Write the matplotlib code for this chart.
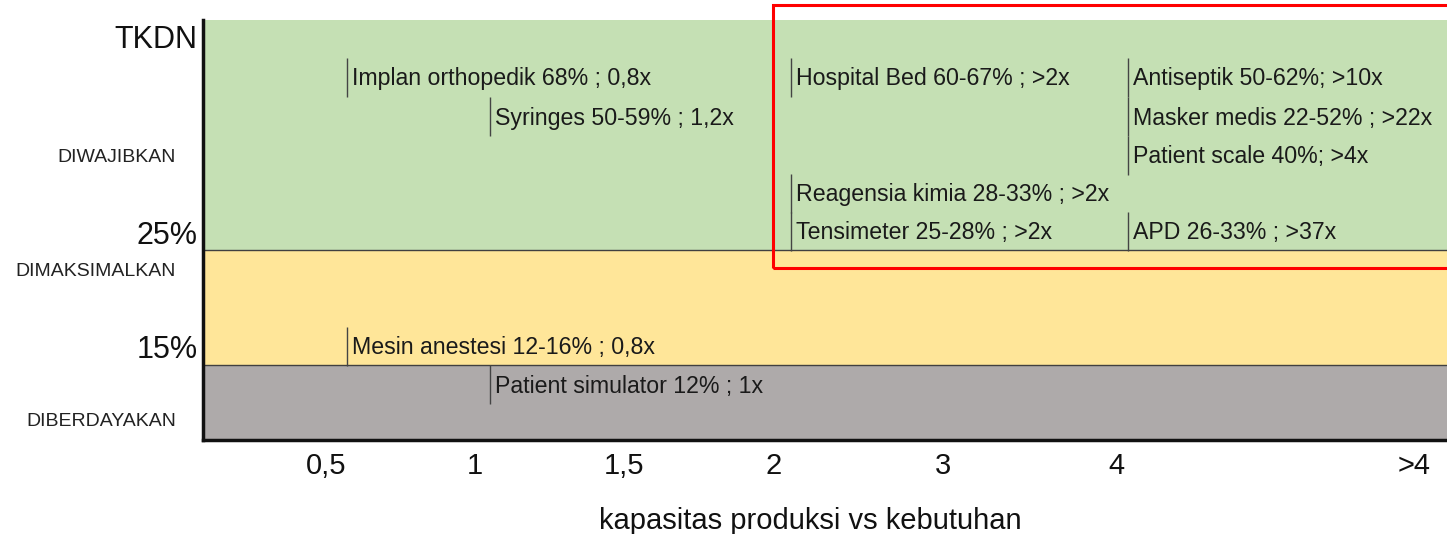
import matplotlib.pyplot as plt
from matplotlib.patches import Rectangle

plt.rcParams['font.family'] = ['Liberation Sans', 'DejaVu Sans']

# bands (y in layout units, 0 = bottom of plot, 420 = top)
band_names = ['DIBERDAYAKAN', 'DIMAKSIMALKAN', 'DIWAJIBKAN']
band_low = [0, 75, 190]
band_high = [75, 190, 420]
band_colors = ['#aeaaaa', '#ffe699', '#c5e0b4']
band_label_y = [18, 168, 282]

# y tick labels
ytick_labels = ['15%', '25%', 'TKDN']
ytick_y = [93, 208, 403]

# x axis ticks (capacity positions)
xtick_labels = ['0,5', '1', '1,5', '2', '3', '4', '>4']
xtick_pos = [0.5, 1.0, 1.5, 2.0, 2.57, 3.15, 4.15]

# products: label, capacity position, row centre
item_labels = ['Implan orthopedik 68% ; 0,8x', 'Syringes 50-59% ; 1,2x',
               'Hospital Bed 60-67% ; >2x', 'Antiseptik 50-62%; >10x',
               'Masker medis 22-52% ; >22x', 'Patient scale 40%; >4x',
               'Reagensia kimia 28-33% ; >2x', 'Tensimeter 25-28% ; >2x',
               'APD 26-33% ; >37x', 'Mesin anestesi 12-16% ; 0,8x',
               'Patient simulator 12% ; 1x']
item_x = [0.57, 1.05, 2.06, 3.19, 3.19, 3.19, 2.06, 2.06, 3.19, 0.57, 1.05]
item_y = [362.5, 323.5, 362.5, 362.5, 323.5, 284.5, 246.5, 209, 209, 94, 55.5]
row_h = 39

fig = plt.figure(figsize=(14.47, 5.34), dpi=100)
ax = fig.add_axes([203/1447, 94/534, 1244/1447, 420/534])
xmin, xmax = 0.087, 4.26
ax.set_xlim(xmin, xmax)
ax.set_ylim(0, 420)

for lo, hi, c in zip(band_low, band_high, band_colors):
    ax.axhspan(lo, hi, color=c, lw=0, zorder=0)
for b in band_low[1:]:
    ax.axhline(b, color='#404040', lw=1, zorder=1)

for lab, x, y in zip(item_labels, item_x, item_y):
    ax.vlines(x, y - row_h/2, y + row_h/2, color='#444444', lw=1, zorder=2)
    ax.text(x + 0.017, y - 1.5, lab, fontsize=16.7, va='center', ha='left', color='#1a1a1a', zorder=3)

for lab, y in zip(band_names, band_label_y):
    ax.text(-0.0217, y, lab, fontsize=14, va='center', ha='right', color='#222222',
            transform=ax.get_yaxis_transform())

ax.set_yticks(ytick_y)
ax.set_yticklabels(ytick_labels, fontsize=22)
ax.set_xticks(xtick_pos)
ax.set_xticklabels(xtick_labels, fontsize=21)
ax.tick_params(axis='both', length=0, colors='#111111')
ax.tick_params(axis='x', pad=9)
ax.tick_params(axis='y', pad=4)
ax.set_xlabel('kapasitas produksi vs kebutuhan', fontsize=21, color='#111111')
ax.xaxis.set_label_coords((810 - 203) / 1244, -0.16)

for s in ['top', 'right']:
    ax.spines[s].set_visible(False)
for s in ['left', 'bottom']:
    ax.spines[s].set_linewidth(2.5)
    ax.spines[s].set_color('#111111')

# red highlight box
ax.add_patch(Rectangle((2.0, 172), xmax - 2.0 + 0.02, 263, fill=False,
                       edgecolor='red', lw=2.2, clip_on=False, zorder=5))

fig.savefig('out.png', dpi=100)
